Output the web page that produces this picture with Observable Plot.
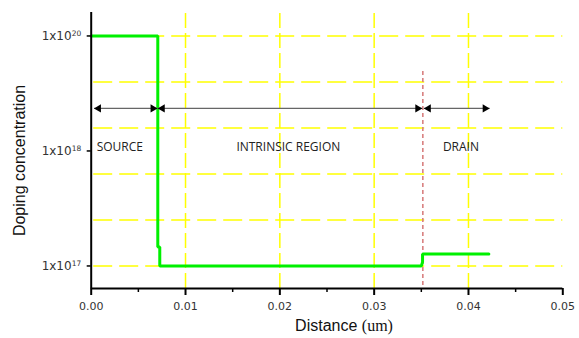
<!DOCTYPE html>
<html><head><meta charset="utf-8">
<script src="https://cdn.jsdelivr.net/npm/d3@7"></script>
<script src="https://cdn.jsdelivr.net/npm/@observablehq/plot@0.6"></script>
<style>body{margin:0;background:#fff;}</style>
</head><body><div id="chart"></div>
<script>
// ---- data ----
const distance = [0, 0.00706, 0.00706, 0.00727, 0.00727, 0.0350, 0.03513, 0.03513, 0.04216];
const doping   = [1e20, 1e20, 1.46e17, 1.46e17, 1e17, 1e17, 1.08e17, 1.27e17, 1.27e17];
const yTickValues = [1e17, 1e18, 1e20];
const yTickBase = ["1x10", "1x10", "1x10"];
const yTickExp = ["17", "18", "20"];
const xTickValues = [0, 0.01, 0.02, 0.03, 0.04, 0.05];
const xMinorTicks = [0.005, 0.015, 0.025, 0.035, 0.045];
const xGrid = [0.01, 0.02, 0.03, 0.04];
const yGridSteps = [0, 1, 2, 3, 4, 5];
const regionNames = ["SOURCE", "INTRINSIC REGION", "DRAIN"];
const regionLabelX = [0.00303, 0.0209, 0.0392];
const regionLabelConc = 1.18e18;
const arrowFrom = [0.0003, 0.00706, 0.03527];
const arrowTo = [0.00703, 0.0351, 0.04224];
const arrowConc = 5.5e18;
const boundaryX = 0.03516;
const boundaryTopConc = 2.4e19;
const yDomainSteps = [-0.49, 5.51];
const yTitle = "Doping concentration";
const xTitleMain = "Distance ";
const xTitleUnit = "(um)";

// the reference's y axis is not a true log axis: 1e17, 1e18, 1e20 sit at 0, 2.5, 5 grid steps
const yLevel = d3.scaleLinear().domain([17, 18, 20]).range([0, 2.5, 5]);
const lvl = c => yLevel(Math.log10(c));

const profile = distance.map((x, i) => ({x, y: lvl(doping[i])}));
const arrows = arrowFrom.map((x1, i) => ({x1, x2: arrowTo[i], y: lvl(arrowConc)}));
const regions = regionNames.map((name, i) => ({name, x: regionLabelX[i], y: lvl(regionLabelConc)}));
const yTicks = yTickValues.map(lvl);
const yLabelOf = new Map(yTicks.map((v, i) => [v, yTickBase[i] + "^" + yTickExp[i]]));

const chart = Plot.plot({
  width: 579,
  height: 338,
  marginLeft: 90.7,
  marginRight: 16.7,
  marginTop: 12,
  marginBottom: 50,
  x: {domain: [0, 0.05], label: null},
  y: {domain: yDomainSteps, label: null},
  style: {fontFamily: "DejaVu Sans", fontSize: "11px", background: "white", color: "#333"},
  marks: [
    Plot.ruleY(yGridSteps, {stroke: "#ffff00", strokeWidth: 1.5, strokeDasharray: "19,7", strokeDashoffset: -2.5}),
    Plot.ruleX(xGrid, {stroke: "#ffff00", strokeWidth: 1.5, strokeDasharray: "15,5", strokeDashoffset: -1}),
    Plot.ruleX([boundaryX], {y1: lvl(boundaryTopConc), y2: yDomainSteps[0], stroke: "#d98080", strokeWidth: 1.6, strokeDasharray: "4,3"}),
    Plot.line(profile, {x: "x", y: "y", stroke: "#00f000", strokeWidth: 3, strokeLinejoin: "miter"}),
    Plot.link(arrows, {x1: "x1", x2: "x2", y1: "y", y2: "y", stroke: "#666", strokeWidth: 1.3}),
    Plot.dot(arrows, {x: "x2", y: "y", symbol: "triangle", rotate: 90, r: 3, fill: "black", stroke: "none", dx: -4.6}),
    Plot.dot(arrows, {x: "x1", y: "y", symbol: "triangle", rotate: -90, r: 3, fill: "black", stroke: "none", dx: 4.6}),
    Plot.text(regions, {x: "x", y: "y", text: "name", fontFamily: "Open Sans", fontSize: 12, fill: "#222"}),
    // axis lines
    Plot.ruleY([yDomainSteps[0]], {stroke: "black", strokeWidth: 2}),
    Plot.ruleX([0], {stroke: "black", strokeWidth: 2}),
    // x ticks
    Plot.axisX({ticks: xTickValues, tickSize: 7, tickFormat: () => "", stroke: "black", strokeWidth: 2, label: null}),
    Plot.axisX({ticks: xMinorTicks, tickSize: 4, tickFormat: () => "", stroke: "black", strokeWidth: 1.5, label: null}),
    Plot.axisX({ticks: xTickValues, tickSize: 0, tickPadding: 14, tickFormat: d3.format(".2f"), fill: "#333", fontSize: 11, label: null}),
    // y ticks
    Plot.axisY({ticks: yTicks, tickSize: 4, tickFormat: () => "", stroke: "black", strokeWidth: 1.5, label: null}),
    Plot.axisY({ticks: yTicks, tickSize: 0, tickPadding: 10, tickFormat: d => yLabelOf.get(d), fill: "#333", fontSize: 12, label: null}),
    // titles
    Plot.text([yTitle], {text: d => d, frameAnchor: "left", textAnchor: "middle", rotate: -90, dx: -71.7, dy: 10, fontFamily: "Liberation Sans", fontSize: 16, fill: "#111"}),
    Plot.text([xTitleMain + xTitleUnit], {text: d => d, frameAnchor: "bottom", textAnchor: "middle", dx: 17, dy: 42, fontFamily: "Liberation Sans", fontSize: 16, fill: "#111"})
  ]
});

const NS = "http://www.w3.org/2000/svg";
chart.querySelectorAll("text").forEach(t => {
  const s = t.textContent;
  if (s.includes("^")) {
    const [b, e] = s.split("^");
    t.textContent = b;
    t.style.fontSize = "12px";
    const ts = document.createElementNS(NS, "tspan");
    ts.setAttribute("dy", "-0.45em");
    ts.style.fontSize = "7.5px";
    ts.textContent = e;
    t.appendChild(ts);
  } else if (s === xTitleMain + xTitleUnit) {
    t.textContent = xTitleMain;
    t.style.fontSize = "16px";
    t.style.fontFamily = "Liberation Sans";
    const ts = document.createElementNS(NS, "tspan");
    ts.style.fontFamily = "Liberation Serif";
    ts.textContent = xTitleUnit;
    t.appendChild(ts);
  } else if (s === yTitle) {
    t.style.fontSize = "16px";
    t.style.fontFamily = "Liberation Sans";
  } else if (regionNames.includes(s)) {
    t.style.fontSize = "12px";
    t.style.fontFamily = "Open Sans";
  } else if (/^0\.0\d$/.test(s)) {
    t.style.fontSize = "11px";
  }
});
document.getElementById("chart").appendChild(chart);
</script>
</body></html>
